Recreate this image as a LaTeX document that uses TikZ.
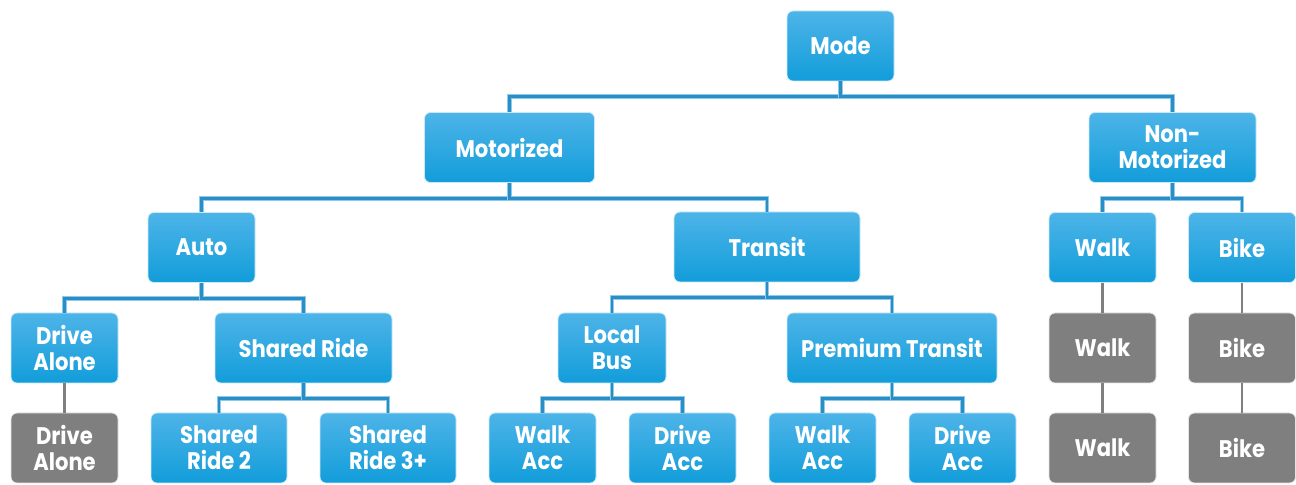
\documentclass[tikz,border=0pt]{standalone}
\usepackage{fontspec}
\newfontfamily\modefont{Poppins}[FakeStretch=0.88]
\usetikzlibrary{positioning}

\definecolor{boxtop}{HTML}{4DB4E8}
\definecolor{boxmid}{HTML}{1EAEEC}
\definecolor{boxbot}{HTML}{129DDA}
\definecolor{boxgrey}{HTML}{7F7F7F}
\definecolor{linkblue}{HTML}{2A8DC5}
\definecolor{linkglow}{HTML}{8CCBEA}

\begin{document}
\begin{tikzpicture}[
  x=0.5pt, y=-0.5pt,
  level/.style={rectangle, rounded corners=3pt, draw=white!70!boxtop, line width=0.4pt,
    top color=boxtop, middle color=boxmid, bottom color=boxbot,
    text=white, font=\modefont\bfseries\fontsize{12}{13}\selectfont,
    align=center, minimum width=53.5pt, minimum height=35pt, inner sep=1pt},
  choice/.style={level, top color=boxgrey, middle color=boxgrey, bottom color=boxgrey,
    draw=white!80!boxgrey},
  link/.style={draw=linkblue, line width=1.4pt,
    preaction={draw=linkglow, line width=2.4pt}},
  glink/.style={draw=boxgrey, line width=1.3pt}
]
  \useasboundingbox (0,0) rectangle (1296,485);

  % Top levels
  \node[level] (mode) at (840.5,46) {Mode};
  \node[level, minimum width=85pt] (motor) at (509.5,147.5) {Motorized};
  \node[level, minimum width=83.5pt] (nonmot) at (1172.5,147.5) {Non-\\Motorized};

  % Second row
  \node[level] (auto) at (201.5,247.5) {Auto};
  \node[level, minimum width=93pt] (transit) at (767,247) {Transit};
  \node[level] (walk) at (1102.5,247.5) {Walk};
  \node[level] (bike) at (1242,247.5) {Bike};

  % Third row
  \node[level] (drive) at (64.5,348) {Drive\\Alone};
  \node[level, minimum width=88.5pt] (shared) at (303.5,348) {Shared Ride};
  \node[level, minimum width=54pt] (local) at (612,348) {Local\\Bus};
  \node[level, minimum width=105pt] (premium) at (892,348) {Premium Transit};
  \node[choice] (walkmid) at (1102.5,348) {Walk};
  \node[choice] (bikemid) at (1242,348) {Bike};

  % Bottom row (alternatives)
  \node[choice] (drivealt) at (64.5,448) {Drive\\Alone};
  \node[level, minimum width=68pt] (sr2) at (219,448) {Shared\\Ride 2};
  \node[level, minimum width=68pt] (sr3) at (388,448) {Shared\\Ride 3+};
  \node[level] (lbwalk) at (542.5,448) {Walk\\Acc};
  \node[level] (lbdrive) at (682.5,448) {Drive\\Acc};
  \node[level] (ptwalk) at (822.5,448) {Walk\\Acc};
  \node[level] (ptdrive) at (962.5,448) {Drive\\Acc};
  \node[choice] (walkalt) at (1102.5,448) {Walk};
  \node[choice] (bikealt) at (1242,448) {Bike};

  % Elbow connectors
  \foreach \parent/\child in {mode/motor, mode/nonmot, motor/auto, motor/transit,
      nonmot/walk, nonmot/bike, auto/drive, auto/shared, transit/local, transit/premium,
      shared/sr2, shared/sr3, local/lbwalk, local/lbdrive, premium/ptwalk, premium/ptdrive}
    \draw[link] (\parent.south) -- ++(0,15.5) -| (\child.north);

  % Grey connectors
  \draw[glink] (drive) -- (drivealt);
  \draw[glink] (walk) -- (walkmid);
  \draw[glink] (walkmid) -- (walkalt);
  \draw[glink] (bike) -- (bikemid);
  \draw[glink] (bikemid) -- (bikealt);
\end{tikzpicture}
\end{document}
